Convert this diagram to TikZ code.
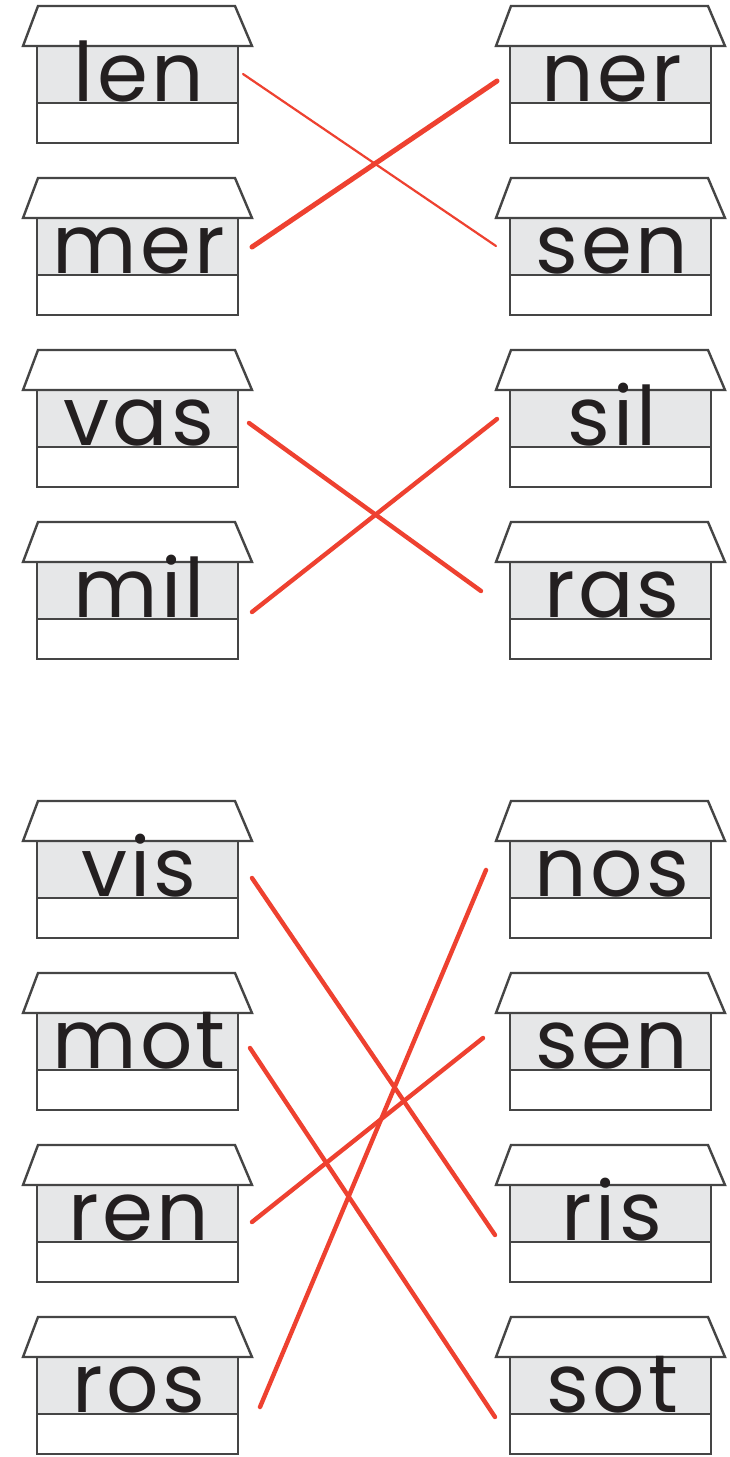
\documentclass[tikz,border=0pt]{standalone}
\usepackage{fontspec}
\setmainfont{Poppins}[LetterSpace=4]
\definecolor{frame}{HTML}{454545}
\definecolor{band}{HTML}{E6E7E8}
\definecolor{pen}{HTML}{EE4130}
\definecolor{ink}{HTML}{231F20}
\tikzset{
  houseline/.style={draw=frame, line width=2.4pt, line join=miter},
  word/.style={anchor=base, inner sep=0pt, font=\fontsize{82}{82}\selectfont, text=ink},
  link/.style={draw=pen, line width=4.4pt, line cap=round},
  thinlink/.style={draw=pen, line width=2.2pt, line cap=round},
  thicklink/.style={draw=pen, line width=5pt, line cap=round}
}
\newcommand\myhouse[4]{% name, x0, y0, word
  \fill[band] (#2+14,#3+40) rectangle (#2+215,#3+97);
  \draw[houseline] (#2+14,#3+40) rectangle (#2+215,#3+137);
  \draw[houseline] (#2+14,#3+97) -- (#2+215,#3+97);
  \draw[houseline, fill=white] (#2+15,#3) -- (#2+212,#3) -- (#2+229,#3+40) -- (#2,#3+40) -- cycle;
  \node[word] (#1) at (#2+116,#3+95) {#4};
}
\begin{document}
\begin{tikzpicture}[x=1pt,y=-1pt]
\useasboundingbox (0,0) rectangle (729,1457);
\fill[white] (0,0) rectangle (729,1457);
% left column
\myhouse{len}{23}{6}{len}
\myhouse{mer}{23}{178}{mer}
\myhouse{vas}{23}{350}{vas}
\myhouse{mil}{23}{522}{mil}
\myhouse{vis}{23}{801}{vis}
\myhouse{mot}{23}{973}{mot}
\myhouse{ren}{23}{1145}{ren}
\myhouse{ros}{23}{1317}{ros}
% right column
\myhouse{ner}{496}{6}{ner}
\myhouse{sen}{496}{178}{sen}
\myhouse{sil}{496}{350}{sil}
\myhouse{ras}{496}{522}{ras}
\myhouse{nos}{496}{801}{nos}
\myhouse{senb}{496}{973}{sen}
\myhouse{ris}{496}{1145}{ris}
\myhouse{sot}{496}{1317}{sot}
% connector ends
\coordinate (len-e) at (243,74);
\coordinate (mer-e) at (252,247);
\coordinate (vas-e) at (249,423);
\coordinate (mil-e) at (252,612);
\coordinate (vis-e) at (252,878);
\coordinate (mot-e) at (250,1048);
\coordinate (ren-e) at (252,1222);
\coordinate (ros-e) at (260,1407);
\coordinate (ner-w) at (497,81);
\coordinate (sen-w) at (496,246);
\coordinate (sil-w) at (497,419);
\coordinate (ras-w) at (481,591);
\coordinate (nos-w) at (486,870);
\coordinate (senb-w) at (483,1038);
\coordinate (ris-w) at (495,1235);
\coordinate (sot-w) at (495,1417);
% connectors
\draw[thinlink] (len-e) -- (sen-w);
\draw[thicklink] (mer-e) -- (ner-w);
\draw[link] (vas-e) -- (ras-w);
\draw[link] (mil-e) -- (sil-w);
\draw[link] (vis-e) -- (ris-w);
\draw[link] (mot-e) -- (sot-w);
\draw[link] (ren-e) -- (senb-w);
\draw[link] (ros-e) -- (nos-w);
\end{tikzpicture}
\end{document}
